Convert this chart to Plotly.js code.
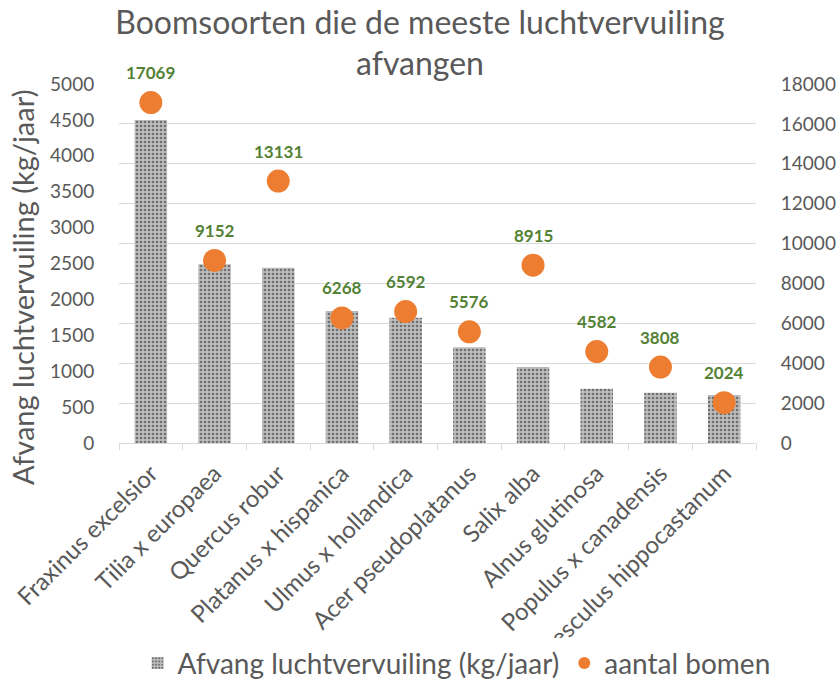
<!DOCTYPE html>
<html>
<head>
<meta charset="utf-8">
<script src="https://cdn.plot.ly/plotly-3.0.1.min.js"></script>
<style>html,body{margin:0;padding:0;background:#fff;}#chart{width:836px;height:686px;}</style>
</head>
<body>
<div id="chart"></div>
<script>
var categories = ["Fraxinus excelsior","Tilia x europaea","Quercus robur","Platanus x hispanica","Ulmus x hollandica","Acer pseudoplatanus","Salix alba","Alnus glutinosa","Populus x canadensis","Aesculus hippocastanum"];
var afvang = [4500, 2490, 2440, 1840, 1745, 1335, 1060, 755, 700, 670];
var aantalBomen = [17069, 9152, 13131, 6268, 6592, 5576, 8915, 4582, 3808, 2024];
var leftTicks = [0,500,1000,1500,2000,2500,3000,3500,4000,4500,5000];
var rightTicks = [0,2000,4000,6000,8000,10000,12000,14000,16000,18000];

var FONT = "Lato, Carlito, 'Open Sans', sans-serif";
var GREY = "#595959";

var bars = {
  type: "bar",
  name: "Afvang luchtvervuiling (kg/jaar)",
  x: categories,
  y: afvang,
  yaxis: "y",
  width: 0.51,
  marker: {
    color: "#a9a9a9",
    pattern: {shape: ".", fgcolor: "#6f6f6f", bgcolor: "#bdbdbd", size: 4, solidity: 0.35}
  },
  hoverinfo: "skip"
};

var dots = {
  type: "scatter",
  mode: "markers",
  name: "aantal bomen",
  x: categories,
  y: aantalBomen,
  yaxis: "y2",
  marker: {color: "#ED7D31", size: 23},
  hoverinfo: "skip"
};

var annotations = categories.map(function(c, i){
  return {x: c, y: aantalBomen[i], xref: "x", yref: "y2", text: "<b>" + aantalBomen[i] + "</b>",
    showarrow: false, yshift: 30, font: {family: FONT, size: 17, color: "#548235"}};
});
annotations.push({
  text: "Afvang luchtvervuiling (kg/jaar)", textangle: -90, showarrow: false,
  xref: "paper", yref: "paper", x: -0.1507, xanchor: "center", y: 0.432, yanchor: "middle",
  font: {family: FONT, size: 29, color: GREY}
});

var layout = {
  width: 836, height: 686,
  paper_bgcolor: "#fff", plot_bgcolor: "#fff",
  margin: {l: 119, r: 80, t: 84, b: 243, autoexpand: false},
  font: {family: FONT, color: GREY},
  title: {text: "Boomsoorten die de meeste luchtvervuiling<br>afvangen", font: {family: FONT, size: 32, color: GREY},
    x: 0.4725, xanchor: "center", xref: "paper", yref: "container", y: 0.951, yanchor: "top"},
  showlegend: true,
  legend: {orientation: "h", x: 0.53, xanchor: "center", yref: "container", y: 0.033, yanchor: "middle",
    font: {family: FONT, size: 28, color: GREY}, itemsizing: "constant", itemwidth: 30},
  bargap: 0.49,
  xaxis: {
    type: "category", range: [-0.5, 9.5], tickangle: -45, tickfont: {family: FONT, size: 24, color: GREY},
    showline: true, linecolor: "#d9d9d9", linewidth: 1,
    ticks: "outside", tickson: "boundaries", ticklen: 6, tickcolor: "#d9d9d9",
    showgrid: false, automargin: false, ticklabelstandoff: 6
  },
  yaxis: {
    range: [0, 5000], tickvals: leftTicks, ticktext: leftTicks.map(String),
    showgrid: false, zeroline: false, showline: false,
    ticks: "outside", ticklen: 20, tickcolor: "rgba(0,0,0,0)",
    tickfont: {family: FONT, size: 19, color: GREY},
    automargin: false
  },
  yaxis2: {
    range: [0, 18000], tickvals: rightTicks, ticktext: rightTicks.map(String),
    overlaying: "y", side: "right",
    showgrid: true, gridcolor: "#d9d9d9", gridwidth: 1, zeroline: false, showline: false,
    ticks: "outside", ticklen: 20, tickcolor: "rgba(0,0,0,0)",
    tickfont: {family: FONT, size: 19, color: GREY}, automargin: false
  },
  annotations: annotations
};

Plotly.newPlot("chart", [bars, dots], layout, {displayModeBar: false, staticPlot: true});
</script>
</body>
</html>
